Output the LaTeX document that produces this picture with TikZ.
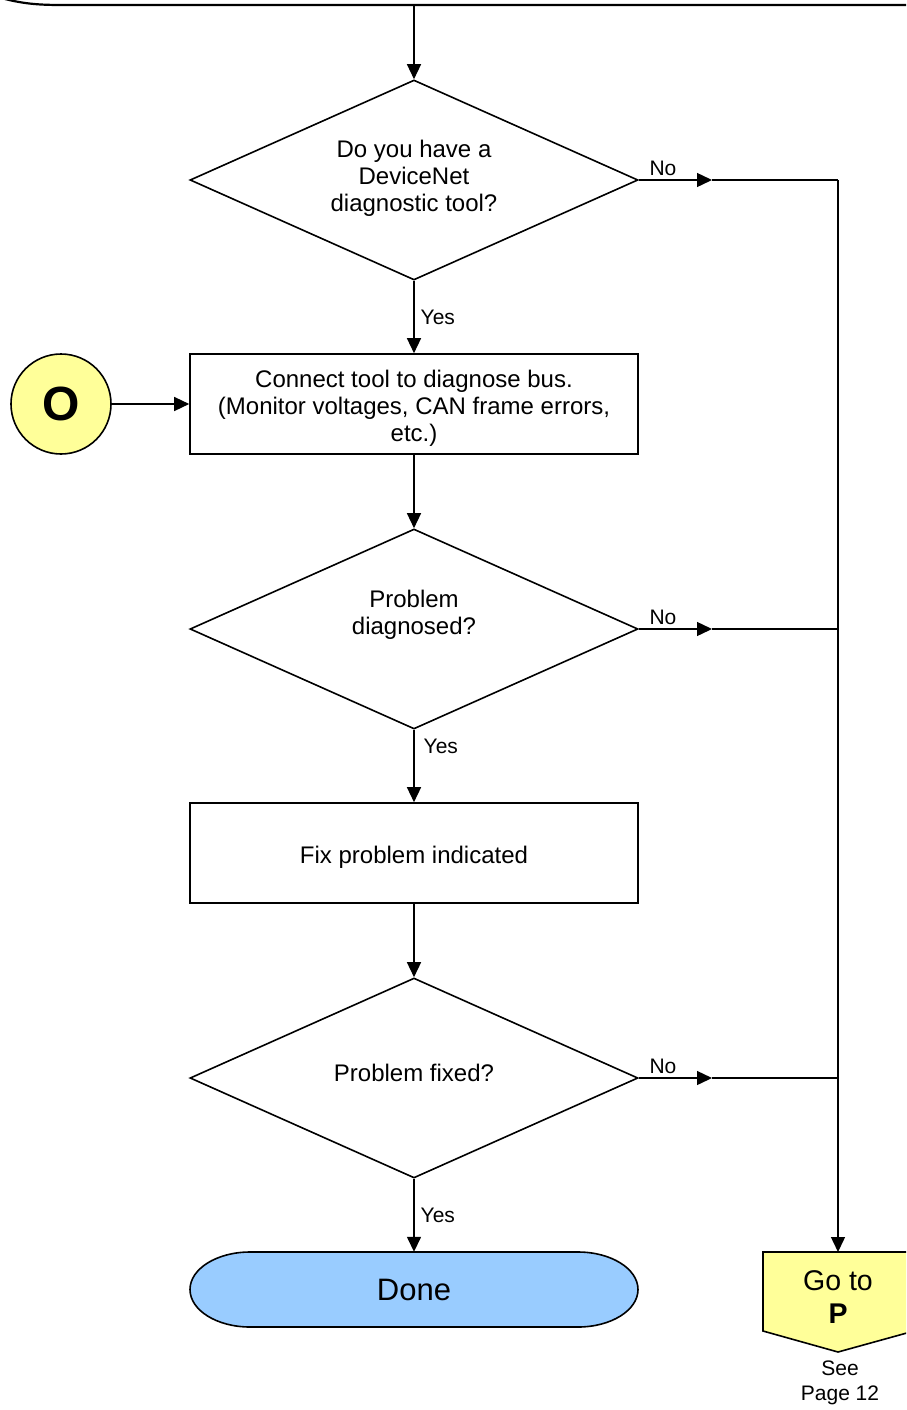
\documentclass[tikz,border=0pt]{standalone}
\usepackage{fontspec}
\setmainfont{Liberation Sans}
\usetikzlibrary{shapes.geometric,arrows.meta}
\definecolor{ylw}{HTML}{FFFF99}
\definecolor{blu}{HTML}{99CCFF}
\begin{document}
\begin{tikzpicture}[x=1pt,y=1pt,
  box/.style={draw,line width=1.6pt,minimum width=448pt,minimum height=100pt,inner sep=0pt,align=center,font=\fontsize{24}{27}\selectfont},
  dia/.style={diamond,draw,line width=1.6pt,aspect=2.24,minimum width=448pt,minimum height=200pt,inner sep=0pt,align=center,font=\fontsize{24}{27}\selectfont},
  arr/.style={line width=1.4pt,-{Triangle[length=15pt,width=14pt]}},
  ln/.style={line width=1.4pt},
  lbl/.style={font=\fontsize{21}{24}\selectfont,inner sep=0pt},
  shp/.style={draw,line width=1.6pt}]
\useasboundingbox (0,0) rectangle (906,-1410);
\clip (0,0) rectangle (906,-1410);
% top shape (bottom edge of a previous box)
\draw[shp,line width=2.2pt] (5,1) .. controls (25,-4) and (40,-5) .. (62,-5) -- (912,-5);
\coordinate (top) at (414,-5);
% Done terminal shape
\draw[shp,fill=blu] (250,-1252) -- (578,-1252) arc[start angle=90,end angle=-90,x radius=60,y radius=37.5] -- (250,-1327) arc[start angle=270,end angle=90,x radius=60,y radius=37.5] -- cycle;
% Go to P off-page shape
\draw[shp,fill=ylw] (763,-1252) -- (914,-1252) -- (914,-1331) -- (838,-1352) -- (763,-1331) -- cycle;
% nodes
\node[dia] (d1) at (414,-180) {Do you have a\\DeviceNet\\diagnostic tool?\rule[-9pt]{0pt}{0pt}};
\node[box] (r1) at (414,-404) {\rule{0pt}{25pt}Connect tool to diagnose bus.\\(Monitor voltages, CAN frame errors,\\etc.)};
\node[circle,draw,line width=1.6pt,fill=ylw,minimum size=100pt,inner sep=0pt,font=\fontsize{48}{48}\selectfont\bfseries] (o) at (61,-404) {O};
\node[dia] (d2) at (414,-629) {Problem\\diagnosed?\\\rule[-6pt]{0pt}{0pt}};
\node[box] (r2) at (414,-853) {\rule{0pt}{25pt}Fix problem indicated};
\node[dia] (d3) at (414,-1078) {Problem fixed?\rule[-11pt]{0pt}{0pt}};
\node[minimum width=448pt,minimum height=75pt,inner sep=0pt,font=\fontsize{31}{34}\selectfont] (done) at (414,-1289.5) {Done};
\node[minimum width=150pt,minimum height=80pt,inner sep=0pt,align=center,font=\fontsize{28.5}{33}\selectfont,anchor=north] (goto) at (838,-1252) {\rule{0pt}{29pt}Go to\\\textbf{P}};
\node[lbl,align=center,font=\fontsize{21}{25}\selectfont] (see) at (840,-1383) {See\\Page 12};
% junctions
\coordinate (n1) at (712,-180);
\coordinate (n2) at (712,-629);
\coordinate (n3) at (712,-1078);
\coordinate (j1) at (838,-180);
\coordinate (j2) at (838,-629);
\coordinate (j3) at (838,-1078);
% connectors
\draw[arr] (top) -- (d1.north);
\draw[arr] (d1.south) -- node[lbl,right=6pt,pos=0.5] {Yes} (r1.north);
\draw[arr] (o.east) -- (r1.west);
\draw[arr] (r1.south) -- (d2.north);
\draw[arr] (d2.south) -- node[lbl,right=9pt,pos=0.23] {Yes} (r2.north);
\draw[arr] (r2.south) -- (d3.north);
\draw[arr] (d3.south) -- node[lbl,right=6pt,pos=0.5] {Yes} (done.north);
\draw[arr] (d1.east) -- node[lbl,above=4pt,pos=0.33] {No} (n1);
\draw[arr] (d2.east) -- node[lbl,above=4pt,pos=0.33] {No} (n2);
\draw[arr] (d3.east) -- node[lbl,above=4pt,pos=0.33] {No} (n3);
\draw[ln] (n1) -- (j1);
\draw[ln] (n2) -- (j2);
\draw[ln] (n3) -- (j3);
\draw[arr] (j1) -- (goto.north);
\end{tikzpicture}
\end{document}
